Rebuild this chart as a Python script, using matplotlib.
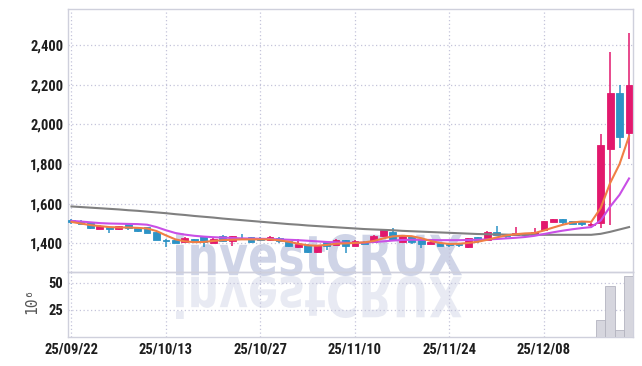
import numpy as np
import matplotlib.pyplot as plt
from matplotlib.textpath import TextPath
from matplotlib.font_manager import FontProperties
from matplotlib.patches import PathPatch
from matplotlib.transforms import Affine2D

# daily candles, index 0 = 25/09/22
opens = [1520, 1510, 1506, 1473, 1480, 1471, 1500, 1476, 1480, 1459,
         1419, 1415, 1405, 1420, 1435, 1402, 1439, 1410, 1429, 1430,
         1429, 1415, 1429, 1410, 1380, 1393, 1354, 1408, 1393, 1415,
         1388, 1408, 1405, 1435, 1459, 1408, 1435, 1422, 1398, 1402,
         1397, 1398, 1380, 1432, 1419, 1459, 1444, 1444, 1451, 1441,
         1468, 1509, 1523, 1513, 1509, 1492, 1501, 1877, 2156, 1956]
highs = [1524, 1518, 1508, 1490, 1482, 1488, 1503, 1478, 1482, 1461,
         1422, 1418, 1432, 1424, 1438, 1426, 1441, 1438, 1449, 1432,
         1432, 1438, 1431, 1412, 1422, 1395, 1393, 1410, 1421, 1417,
         1415, 1410, 1441, 1468, 1478, 1441, 1437, 1424, 1410, 1404,
         1399, 1400, 1429, 1434, 1462, 1486, 1446, 1482, 1453, 1477,
         1515, 1525, 1525, 1515, 1511, 1505, 1950, 2366, 2200, 2462]
lows = [1500, 1497, 1474, 1472, 1453, 1469, 1467, 1459, 1450, 1417,
        1381, 1400, 1403, 1410, 1381, 1400, 1408, 1388, 1420, 1403,
        1413, 1413, 1403, 1383, 1378, 1352, 1352, 1368, 1391, 1353,
        1386, 1396, 1403, 1433, 1413, 1406, 1395, 1376, 1396, 1386,
        1380, 1383, 1378, 1403, 1417, 1441, 1428, 1442, 1439, 1439,
        1466, 1507, 1495, 1498, 1487, 1480, 1479, 1490, 1882, 1824]
closes = [1508, 1500, 1476, 1486, 1471, 1485, 1478, 1461, 1452, 1419,
          1412, 1402, 1425, 1414, 1405, 1422, 1410, 1435, 1422, 1405,
          1415, 1430, 1410, 1385, 1395, 1354, 1390, 1385, 1419, 1388,
          1412, 1398, 1439, 1466, 1415, 1439, 1408, 1398, 1405, 1388,
          1390, 1392, 1427, 1410, 1459, 1444, 1438, 1453, 1441, 1458,
          1513, 1523, 1509, 1500, 1499, 1496, 1894, 2156, 1936, 2200]
# volume in 10^6 shares
volume = [0.3, 0.2, 0.3, 0.2, 0.2, 0.2, 0.3, 0.2, 0.2, 0.4,
          0.4, 0.3, 0.3, 0.2, 0.3, 0.2, 0.3, 0.3, 0.2, 0.2,
          0.2, 0.2, 0.2, 0.3, 0.3, 0.4, 0.3, 0.3, 0.3, 0.3,
          0.3, 0.2, 0.4, 0.5, 0.4, 0.3, 0.3, 0.3, 0.2, 0.2,
          0.2, 0.2, 0.4, 0.3, 0.4, 0.4, 0.3, 0.3, 0.2, 0.3,
          0.6, 0.4, 0.3, 0.2, 0.2, 0.3, 16.0, 46.8, 6.3, 55.7]
# moving averages
ma_short = [1508, 1500, 1492, 1487, 1482, 1480, 1480, 1478, 1475, 1462,
            1440, 1420, 1410, 1406, 1407, 1412, 1416, 1418, 1420, 1420,
            1420, 1420, 1415, 1408, 1398, 1390, 1388, 1392, 1398, 1400,
            1402, 1405, 1412, 1425, 1435, 1438, 1436, 1426, 1412, 1402,
            1397, 1398, 1402, 1408, 1418, 1430, 1440, 1446, 1450, 1452,
            1465, 1480, 1494, 1505, 1510, 1508, 1578, 1704, 1800, 1940]
ma_mid = [1513, 1510, 1506, 1502, 1500, 1499, 1498, 1497, 1494, 1482,
          1466, 1452, 1444, 1438, 1434, 1431, 1429, 1427, 1425, 1424,
          1423, 1422, 1420, 1418, 1416, 1413, 1410, 1407, 1405, 1403,
          1402, 1404, 1407, 1410, 1414, 1417, 1418, 1418, 1417, 1416,
          1416, 1416, 1417, 1418, 1420, 1422, 1425, 1428, 1432, 1438,
          1447, 1456, 1464, 1471, 1477, 1482, 1515, 1585, 1645, 1727]
ma_long = [1586, 1583, 1580, 1577, 1574, 1571, 1567, 1564, 1560, 1556,
           1552, 1547, 1543, 1538, 1534, 1530, 1525, 1521, 1517, 1513,
           1509, 1505, 1501, 1497, 1494, 1490, 1487, 1484, 1481, 1478,
           1475, 1472, 1470, 1468, 1466, 1463, 1461, 1459, 1457, 1455,
           1453, 1451, 1449, 1447, 1446, 1445, 1444, 1443, 1443, 1443,
           1443, 1443, 1443, 1443, 1443, 1443, 1448, 1458, 1470, 1482]
tick_pos = [0, 10, 20, 30, 40, 50]
tick_labels = ['25/09/22', '25/10/13', '25/10/27', '25/11/10', '25/11/24', '25/12/08']

RED = '#e2186d'
BLUE = '#2c93c6'
GRID = '#c4c4da'
SPINE = '#cfd0dc'
lab_font = ['Roboto Condensed', 'Roboto', 'DejaVu Sans']

fig = plt.figure(figsize=(6.42, 3.66), dpi=100, facecolor='white')
ax = fig.add_axes([68/642, 1-272.3/366, 565/642, 263/366], facecolor='none')
axv = fig.add_axes([68/642, 1-337.3/366, 565/642, 65/366], facecolor='none', sharex=ax)

# watermark + reflection
fp = FontProperties(family='DejaVu Sans', weight='bold')
tp = TextPath((0, 0), 'investCRUX', size=1, prop=fp)
ext = tp.get_extents()
sx = (462 - 176) / ext.width
sy = (133 - 90) / ext.height
t1 = Affine2D().translate(-ext.x0, -ext.y0).scale(sx, sy).translate(176, 90)
t2 = Affine2D().translate(-ext.x0, -ext.y0).scale(sx, -sy).translate(176, 90)
fig.add_artist(PathPatch(tp, transform=t1, facecolor='#c3cae2', edgecolor='none', alpha=0.8, zorder=-2))
fig.add_artist(PathPatch(tp, transform=t2, facecolor='#dfe2ee', edgecolor='none', alpha=0.7, zorder=-2))

x = np.arange(len(opens))
o = np.array(opens); c = np.array(closes)
colors = [RED if cc >= oo else BLUE for oo, cc in zip(o, c)]
ax.vlines(x, lows, highs, colors=colors, linewidth=1.1, zorder=3)
ax.bar(x, np.maximum(np.abs(c - o), 4), bottom=np.minimum(o, c), width=0.72,
       color=colors, edgecolor=colors, linewidth=0.6, zorder=4)

ax.plot(x, ma_long, color='#808080', lw=1.5, zorder=5)
ax.plot(x, ma_mid, color='#c94fe6', lw=1.5, zorder=5)
ax.plot(x, ma_short, color='#f07f45', lw=1.5, zorder=6)

axv.bar(x, volume, width=1.0, color='#d6d6de', edgecolor='#b4b4c0', linewidth=0.6, zorder=3)

ax.set_xlim(-0.37, 59.42)
ax.set_ylim(1254, 2580)
axv.set_ylim(0, 59.5)

ax.set_yticks([1400, 1600, 1800, 2000, 2200, 2400])
ax.set_yticklabels(['1,400', '1,600', '1,800', '2,000', '2,200', '2,400'])
axv.set_yticks([25, 50])
axv.set_yticklabels(['25', '50'])
axv.set_xticks(tick_pos)
axv.set_xticklabels(tick_labels)

for a in (ax, axv):
    a.grid(True, color=GRID, linestyle=(0, (1, 2)), linewidth=0.9)
    a.set_axisbelow(True)
    a.tick_params(length=0, pad=4, labelsize=10.5, labelcolor='#1e1e1e')
    for lbl in a.get_xticklabels() + a.get_yticklabels():
        lbl.set_family(lab_font)
        lbl.set_fontweight('bold')
    for s in a.spines.values():
        s.set_color(SPINE)
        s.set_linewidth(1.0)
ax.tick_params(labelbottom=False)
axv.tick_params(axis='y', pad=3.5)
ax.tick_params(axis='y', pad=3.5)

fig.text(32/642, 1-301/366, '10\u2076', rotation=90, ha='center', va='center',
         fontsize=10.5, color='#555555', family='DejaVu Sans Mono')

fig.savefig('out.png', dpi=100)
